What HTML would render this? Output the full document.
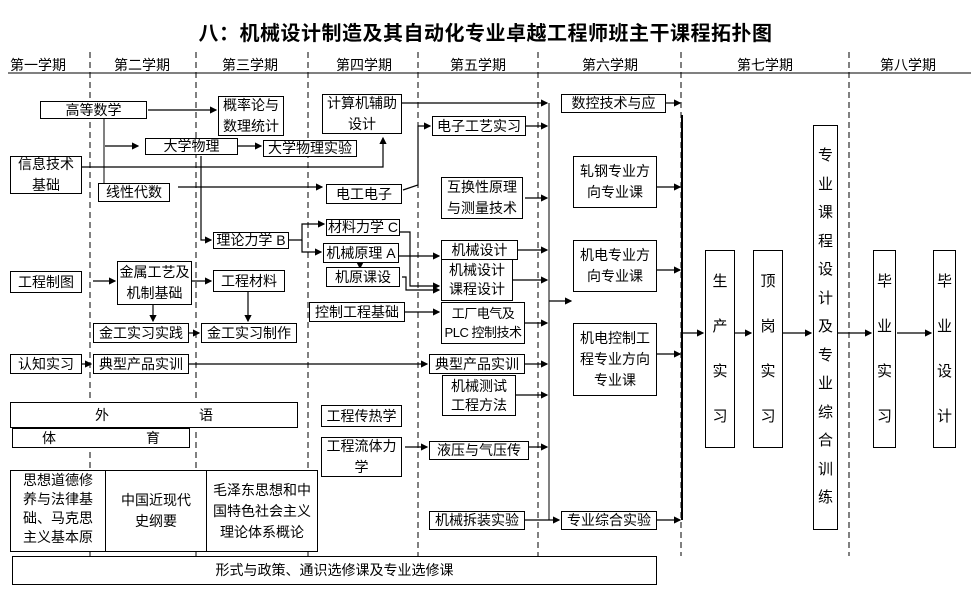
<!DOCTYPE html>
<html><head><meta charset="utf-8"><style>
body{margin:0;background:#fff;width:971px;height:591px;position:relative;overflow:hidden;font-family:"Liberation Sans","Noto Sans CJK SC",sans-serif;color:#000}
.b{position:absolute;border:1px solid #000;box-sizing:border-box;display:flex;align-items:center;justify-content:center;text-align:center;font-size:14px;line-height:21px;background:#fff}
.v{font-size:15px;line-height:27px;flex-direction:column}
.t{position:absolute;font-size:14px}
svg{position:absolute;left:0;top:0}
</style></head><body>
<div class="t" style="left:0;top:17px;width:971px;text-align:center;font-size:20px;font-weight:bold;letter-spacing:0.5px">八：机械设计制造及其自动化专业卓越工程师班主干课程拓扑图</div>
<div class="t" style="left:10px;top:55px">第一学期</div>
<div class="t" style="left:114px;top:55px">第二学期</div>
<div class="t" style="left:222px;top:55px">第三学期</div>
<div class="t" style="left:336px;top:55px">第四学期</div>
<div class="t" style="left:450px;top:55px">第五学期</div>
<div class="t" style="left:582px;top:55px">第六学期</div>
<div class="t" style="left:737px;top:55px">第七学期</div>
<div class="t" style="left:880px;top:55px">第八学期</div>
<svg width="971" height="591">
<defs><marker id="a" markerWidth="6" markerHeight="6" refX="5" refY="3" orient="auto"><path d="M0,0L6,3L0,6z" fill="#000"/></marker></defs>
<line x1="8" y1="73" x2="971" y2="73" stroke="#000"/>
<g stroke="#000" stroke-dasharray="6,4">
<line x1="90" y1="52" x2="90" y2="556"/><line x1="196" y1="52" x2="196" y2="556"/><line x1="308" y1="52" x2="308" y2="556"/><line x1="418" y1="52" x2="418" y2="556"/><line x1="538" y1="52" x2="538" y2="556"/><line x1="681" y1="52" x2="681" y2="556"/><line x1="849" y1="52" x2="849" y2="556"/>
</g>
<g stroke="#000" fill="none" stroke-width="1.2" marker-end="url(#a)">
<line x1="148" y1="110" x2="216" y2="110"/>
<line x1="105" y1="146" x2="138" y2="146"/>
<line x1="238" y1="146" x2="261" y2="146"/>
<polyline points="82,167 383,167 383,138" />
<line x1="178" y1="187" x2="322" y2="187"/>
<polyline points="201,156 201,240 211,240"/>
<line x1="93" y1="281" x2="115" y2="281"/>
<line x1="192" y1="281" x2="211" y2="281"/>
<line x1="153" y1="305" x2="153" y2="321"/>
<line x1="248" y1="292" x2="248" y2="321"/>
<line x1="189" y1="333" x2="199" y2="333"/>
<line x1="82" y1="364" x2="91" y2="364"/>
<line x1="189" y1="364" x2="427" y2="364"/>
<line x1="402" y1="103" x2="547" y2="103"/>
<polyline points="403,190 418,185 418,126 430,126"/>
<polyline points="289,240 302,240 302,224 324,224"/>
<polyline points="302,240 302,252 321,252"/>
<line x1="360" y1="263" x2="360" y2="268"/>
<line x1="399" y1="256" x2="439" y2="256"/>
<polyline points="400,232 410,232 410,286 439,286"/>
<polyline points="402,277 406,277 406,290 439,290"/>
<line x1="405" y1="312" x2="439" y2="312"/>
<line x1="405" y1="447" x2="427" y2="447"/>
<line x1="526" y1="126" x2="547" y2="126"/>
<line x1="525" y1="198" x2="547" y2="198"/>
<line x1="513" y1="250" x2="547" y2="250"/>
<line x1="513" y1="280" x2="547" y2="280"/>
<line x1="525" y1="323" x2="547" y2="323"/>
<line x1="525" y1="364" x2="547" y2="364"/>
<line x1="516" y1="395" x2="547" y2="395"/>
<line x1="529" y1="447" x2="547" y2="447"/>
<line x1="525" y1="520" x2="559" y2="520"/>
<line x1="549" y1="301" x2="571" y2="301"/>
<line x1="666" y1="103" x2="680" y2="103"/>
<line x1="657" y1="187" x2="680" y2="187"/>
<line x1="657" y1="270" x2="680" y2="270"/>
<line x1="657" y1="354" x2="680" y2="354"/>
<line x1="657" y1="520" x2="680" y2="520"/>
<line x1="682" y1="333" x2="703" y2="333"/>
<line x1="735" y1="333" x2="751" y2="333"/>
<line x1="783" y1="333" x2="811" y2="333"/>
<line x1="838" y1="333" x2="871" y2="333"/>
<line x1="897" y1="333" x2="931" y2="333"/>
</g>
<g stroke="#000" fill="none">
<line x1="104" y1="119" x2="104" y2="183"/>
<line x1="549" y1="103" x2="549" y2="520"/>
<line x1="682" y1="115" x2="682" y2="520" stroke-width="2"/>
</g>
</svg>
<div class="b" style="left:40px;top:101px;width:107px;height:18px">高等数学</div>
<div class="b" style="left:218px;top:96px;width:66px;height:40px">概率论与<br>数理统计</div>
<div class="b" style="left:145px;top:138px;width:93px;height:17px">大学物理</div>
<div class="b" style="left:263px;top:140px;width:94px;height:17px">大学物理实验</div>
<div class="b" style="left:10px;top:156px;width:72px;height:38px">信息技术<br>基础</div>
<div class="b" style="left:98px;top:183px;width:72px;height:19px">线性代数</div>
<div class="b" style="left:213px;top:232px;width:76px;height:17px">理论力学 B</div>
<div class="b" style="left:117px;top:261px;width:75px;height:44px">金属工艺及<br>机制基础</div>
<div class="b" style="left:10px;top:271px;width:72px;height:22px">工程制图</div>
<div class="b" style="left:213px;top:270px;width:72px;height:22px">工程材料</div>
<div class="b" style="left:93px;top:323px;width:96px;height:20px">金工实习实践</div>
<div class="b" style="left:201px;top:323px;width:96px;height:20px">金工实习制作</div>
<div class="b" style="left:10px;top:354px;width:72px;height:20px">认知实习</div>
<div class="b" style="left:93px;top:354px;width:96px;height:20px">典型产品实训</div>
<div class="b" style="left:10px;top:402px;width:288px;height:26px"><span style="margin-right:90px">外</span>语</div>
<div class="b" style="left:12px;top:428px;width:178px;height:20px"><span style="margin-right:90px">体</span>育</div>
<div class="b" style="left:10px;top:470px;width:308px;height:82px;justify-content:flex-start;align-items:stretch">
<div style="width:94px;border-right:1px solid #000;line-height:19px">思想道德修<br>养与法律基<br>础、马克思<br>主义基本原</div>
<div style="width:100px;border-right:1px solid #000;display:flex;align-items:center;justify-content:center">中国近现代<br>史纲要</div>
<div style="flex:1;display:flex;align-items:center;justify-content:center">毛泽东思想和中<br>国特色社会主义<br>理论体系概论</div></div>
<div class="b" style="left:12px;top:556px;width:645px;height:29px">形式与政策、通识选修课及专业选修课</div>
<div class="b" style="left:322px;top:94px;width:80px;height:40px">计算机辅助<br>设计</div>
<div class="b" style="left:326px;top:184px;width:76px;height:20px">电工电子</div>
<div class="b" style="left:326px;top:219px;width:74px;height:17px">材料力学 C</div>
<div class="b" style="left:323px;top:243px;width:76px;height:20px">机械原理 A</div>
<div class="b" style="left:326px;top:267px;width:74px;height:20px">机原课设</div>
<div class="b" style="left:309px;top:302px;width:96px;height:20px">控制工程基础</div>
<div class="b" style="left:321px;top:405px;width:81px;height:22px">工程传热学</div>
<div class="b" style="left:321px;top:437px;width:81px;height:40px">工程流体力<br>学</div>
<div class="b" style="left:432px;top:116px;width:94px;height:20px">电子工艺实习</div>
<div class="b" style="left:441px;top:177px;width:82px;height:42px">互换性原理<br>与测量技术</div>
<div class="b" style="left:441px;top:240px;width:77px;height:20px">机械设计</div>
<div class="b" style="left:441px;top:259px;width:72px;height:42px;line-height:19px">机械设计<br>课程设计</div>
<div class="b" style="left:441px;top:302px;width:84px;height:42px;line-height:19px;font-size:13px;letter-spacing:-0.5px;white-space:nowrap">工厂电气及<br>PLC 控制技术</div>
<div class="b" style="left:429px;top:354px;width:96px;height:20px">典型产品实训</div>
<div class="b" style="left:442px;top:375px;width:74px;height:41px;line-height:19px">机械测试<br>工程方法</div>
<div class="b" style="left:429px;top:441px;width:100px;height:19px">液压与气压传</div>
<div class="b" style="left:429px;top:511px;width:96px;height:19px">机械拆装实验</div>
<div class="b" style="left:561px;top:94px;width:105px;height:19px">数控技术与应</div>
<div class="b" style="left:573px;top:156px;width:84px;height:52px">轧钢专业方<br>向专业课</div>
<div class="b" style="left:573px;top:240px;width:84px;height:52px">机电专业方<br>向专业课</div>
<div class="b" style="left:573px;top:323px;width:84px;height:73px">机电控制工<br>程专业方向<br>专业课</div>
<div class="b" style="left:561px;top:511px;width:96px;height:19px">专业综合实验</div>
<div class="b v" style="left:705px;top:250px;width:30px;height:198px;line-height:45px">生<br>产<br>实<br>习</div>
<div class="b v" style="left:753px;top:250px;width:30px;height:198px;line-height:45px">顶<br>岗<br>实<br>习</div>
<div class="b v" style="left:813px;top:125px;width:25px;height:405px;line-height:28.5px">专<br>业<br>课<br>程<br>设<br>计<br>及<br>专<br>业<br>综<br>合<br>训<br>练</div>
<div class="b v" style="left:873px;top:250px;width:23px;height:198px;line-height:45px">毕<br>业<br>实<br>习</div>
<div class="b v" style="left:933px;top:250px;width:23px;height:198px;line-height:45px">毕<br>业<br>设<br>计</div>
</body></html>
